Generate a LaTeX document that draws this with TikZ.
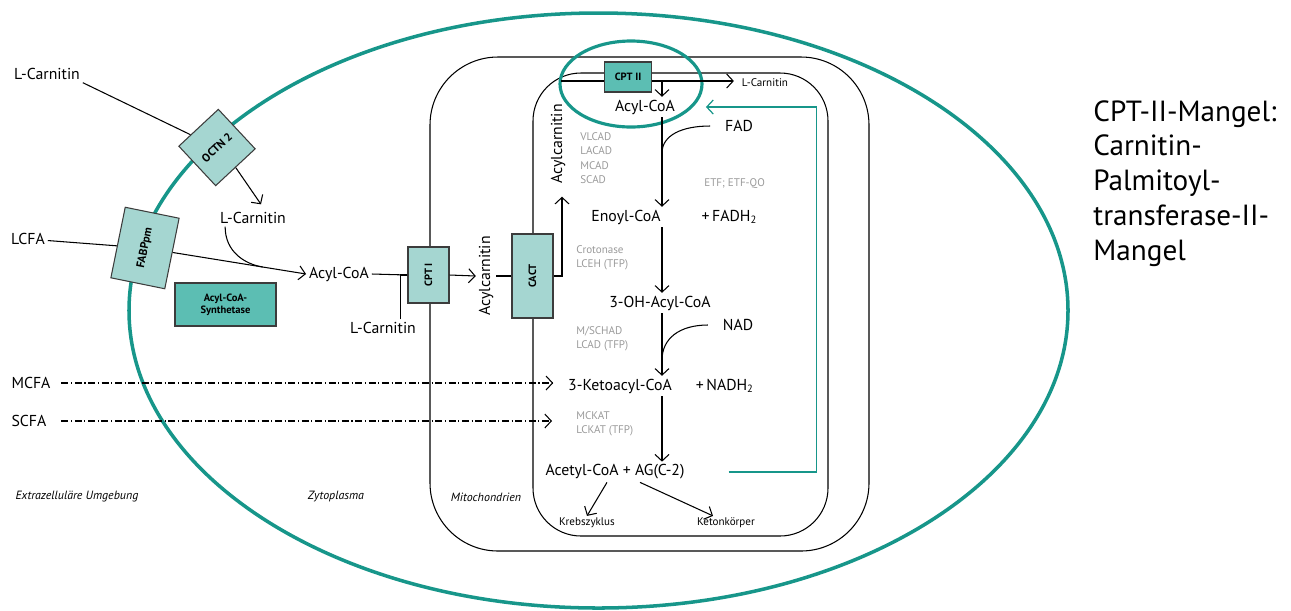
\documentclass[tikz,border=0pt]{standalone}
\usepackage{fontspec}
\setmainfont{PT Sans}
\usetikzlibrary{arrows.meta,positioning,calc}
\definecolor{tealdark}{HTML}{17968A}
\definecolor{boxlight}{HTML}{A5D6D1}
\definecolor{boxdark}{HTML}{5CBEB3}
\definecolor{enzgray}{HTML}{9A9A9A}
\definecolor{boxline}{HTML}{3C3C3C}

\begin{document}
\begin{tikzpicture}[x=0.02cm,y=-0.02cm,
    >={Straight Barb[length=1.3mm,width=2.8mm]},
    lbl/.style={font=\fontsize{9}{10}\selectfont,inner sep=1.5pt},
    sml/.style={font=\fontsize{6.3}{7}\selectfont,inner sep=1pt},
    reg/.style={font=\fontsize{6.8}{8}\selectfont\itshape},
    enz/.style={font=\fontsize{6.3}{8.2}\selectfont,text=enzgray,align=left,anchor=west,inner sep=0pt},
    tp/.style={draw=boxline,fill=boxlight,line width=0.6pt,inner sep=0pt,font=\fontsize{6}{7}\selectfont\bfseries},
    tpd/.style={tp,fill=boxdark},
    ln/.style={line width=0.6pt},
    fb/.style={draw=tealdark,line width=0.7pt},
    dd/.style={ln,dash pattern=on 4pt off 1.5pt on 0.6pt off 1.5pt}
    ]
    \useasboundingbox (0,0) rectangle (1291,610);
    % Zelle, Mitochondrium
    \draw[tealdark,line width=2pt] (598.5,310.5) ellipse [x radius=469.5,y radius=297.5];
    \draw[ln,rounded corners=1.36cm] (430,57) rectangle (869,551);
    \draw[ln,rounded corners=0.96cm] (533,73) rectangle (828,536);
    \draw[tealdark,line width=1.8pt] (631,84) ellipse [x radius=71,y radius=43];

    % Transporter und Enzyme
    \node[tp,rotate=43,minimum size=1.08cm,font=\fontsize{6.5}{7}\selectfont\bfseries] (octn) at (217,147.5) {OCTN 2};
    \node[tp,rotate=78.5,minimum width=1.44cm,minimum height=1.1cm,font=\fontsize{6.5}{7}\selectfont\bfseries] (fab) at (145,248) {FABPpm};
    \node[tpd,minimum width=2.02cm,minimum height=0.86cm,align=center] (syn) at (225.5,304.5) {Acyl-CoA-\\Synthetase};
    \node[tp,rotate=90,minimum width=1.12cm,minimum height=0.82cm] (cpt1) at (428.5,275) {CPT I};
    \node[tp,rotate=90,minimum width=1.68cm,minimum height=0.82cm] (cact) at (532.5,276) {CACT};
    \node[tpd,minimum width=0.94cm,minimum height=0.6cm] (cpt2) at (628,77) {CPT II};

    % Stoffe
    \node[lbl] (lc1) at (47,74) {L-Carnitin};
    \node[lbl] (lcfa) at (28,239) {LCFA};
    \node[lbl] (mcfa) at (31,383) {MCFA};
    \node[lbl] (scfa) at (29,421) {SCFA};
    \node[lbl] (lc2) at (253,218) {L-Carnitin};
    \node[lbl] (acyl1) at (339,274) {Acyl-CoA};
    \node[lbl] (lc3) at (383,328) {L-Carnitin};
    \node[lbl,rotate=90] (acar1) at (486,276) {Acylcarnitin};
    \node[lbl,rotate=90] (acar2) at (558,144) {Acylcarnitin};
    \node[lbl] (acyl2) at (645,107) {Acyl-CoA};
    \node[sml] (lc4) at (765,83) {L-Carnitin};
    \node[lbl] (fad) at (739,126) {FAD};
    \node[lbl] (enoyl) at (626,217) {Enoyl-CoA};
    \node[lbl,right=0.7cm of enoyl] (fadh) {+\,FADH\textsubscript{2}};
    \node[lbl] (oh) at (660,303) {3-OH-Acyl-CoA};
    \node[lbl] (nad) at (738,325) {NAD};
    \node[lbl] (keto) at (620,386) {3-Ketoacyl-CoA};
    \node[lbl,right=0.36cm of keto] (nadh) {+\,NADH\textsubscript{2}};
    \node[lbl] (acet) at (615,472) {Acetyl-CoA + AG(C-2)};
    \node[sml] (kreb) at (587,523) {Krebszyklus};
    \node[sml] (keton) at (726,523) {Ketonkörper};
    \node[enz] (e1) at (580,158) {VLCAD\\LACAD\\MCAD\\SCAD};
    \node[enz] (etf) at (704,184) {ETF; ETF-QO};
    \node[enz] (e2) at (576,258) {Crotonase\\LCEH (TFP)};
    \node[enz] (e3) at (576,339) {M/SCHAD\\LCAD (TFP)};
    \node[enz] (e4) at (576,424) {MCKAT\\LCKAT (TFP)};
    \node[reg] (r1) at (77,497) {Extrazelluläre Umgebung};
    \node[reg] (r2) at (336,497) {Zytoplasma};
    \node[reg] (r3) at (486,497) {Mitochondrien};
    \node[font=\fontsize{16.6}{19.8}\selectfont,align=left,anchor=north west,inner sep=0pt] (info) at (1093,100) {CPT-II-Mangel:\\Carnitin-\\Palmitoyl-\\transferase-II-\\Mangel};

    % Verbindungen
    \coordinate (sp) at (662,0);
    \coordinate (m1) at (561,81);
    \draw[ln] (lc1.south east) -- (octn);
    \draw[ln,->] (octn.south) -- ($(lc2.north)+(8,-5)$);
    \draw[ln] (lcfa) -- (fab);
    \draw[ln,->] (fab) -- (acyl1.west);
    \coordinate (j1) at ($(fab)!0.73!(acyl1.west)$);
    \draw[ln] ($(lc2.south west)+(8,0)$) .. controls +(0,25) and +(-18,-3) .. (j1);
    \draw[ln] (acyl1.east) -- (cpt1.north);
    \draw[ln] ($(lc3.north east)+(-18,0)$) |- (cpt1.north);
    \draw[ln,->] (cpt1.south) -- (acar1.north);
    \draw[ln] (acar1.south) -- (cact.north);
    \draw[ln,->] (cact.south) -| ($(acar2.west)+(4,10)$);
    \draw[ln] (m1) -- (m1 -| cpt2.west);
    \draw[ln,->] (m1 -| cpt2.east) -- ($(m1 -| lc4.west)+(-6,0)$);
    \draw[ln,->] (m1 -| sp) -- (acyl2.north -| sp);
    \draw[ln,->] (acyl2.south -| sp) -- (enoyl.north -| sp);
    \draw[ln] ($(fad.west)+(-12,0)$) .. controls +(-28,0) and +(0,-18) .. ($(acyl2.south -| sp)!0.4!(enoyl.north -| sp)$);
    \draw[ln,->] (enoyl.south -| sp) -- (oh.north -| sp);
    \draw[ln,->] (oh.south -| sp) -- (keto.north -| sp);
    \draw[ln] ($(nad.west)+(-12,0)$) .. controls +(-28,0) and +(0,-22) .. ($(oh.south -| sp)!0.75!(keto.north -| sp)$);
    \draw[ln,->] (keto.south -| sp) -- (acet.north -| sp);
    \draw[ln,->] ($(acet.south)+(-8,0)$) -- (kreb.north);
    \draw[ln,->] ($(acet.south)+(25,0)$) -- ($(keton.north)+(-13,0)$);
    \draw[fb,->] ($(acet.east)+(41,0)$) -- ++(88,0) |- ($(acyl2.east)+(28,0)$);
    \draw[dd,->] ($(mcfa.east)+(8,0)$) -- ($(mcfa.east -| keto.west)+(-12,0)$);
    \draw[dd,->] ($(scfa.east)+(12,0)$) -- ($(scfa.east -| e4.west)+(-24,0)$);
\end{tikzpicture}
\end{document}
